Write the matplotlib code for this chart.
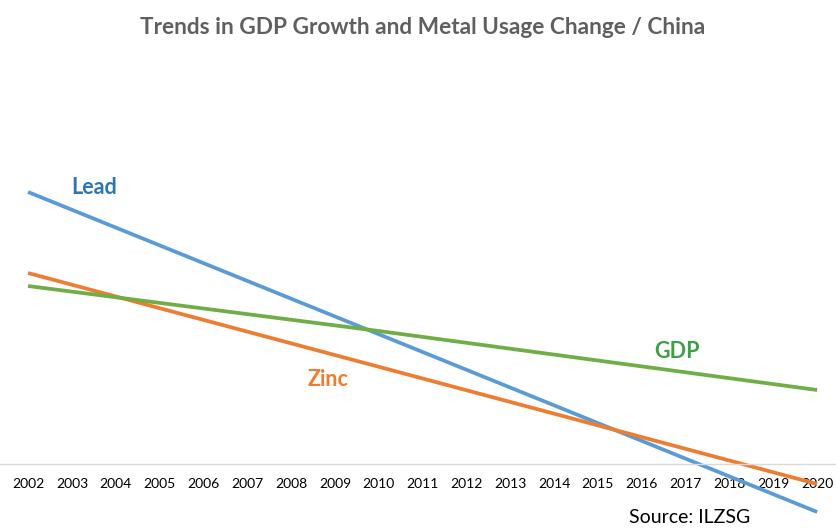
import matplotlib
matplotlib.use("Agg")
import matplotlib.pyplot as plt

years = [str(y) for y in range(2002, 2021)]

# trend lines: (year index, value)
lead_x = [0, 18]
lead_y = [27.2, -4.8]
zinc_x = [0, 18]
zinc_y = [19.1, -2.0]
gdp_x = [0, 8, 18]
gdp_y = [17.8, 13.3, 7.4]

plt.rcParams["font.family"] = ["Lato", "DejaVu Sans"]

fig = plt.figure(figsize=(8.36, 5.28), dpi=100)
ax = fig.add_axes([0, 0, 1, 1])

line_style = dict(linewidth=2.7, solid_capstyle="butt")
ax.plot(lead_x, lead_y, color="#5b9bd5", **line_style)
ax.plot(zinc_x, zinc_y, color="#ed7d31", **line_style)
ax.plot(gdp_x, gdp_y, color="#70ad47", **line_style)

label_style = dict(fontsize=15.5, fontweight="bold", ha="center", va="center")
ax.text(1.5, 27.7, "Lead", color="#2e75b6", **label_style)
ax.text(6.85, 8.4, "Zinc", color="#ed7d31", **label_style)
ax.text(14.8, 11.2, "GDP", color="#3f9f49", **label_style)

ax.set_xlim(-0.64, 18.43)
ax.set_ylim(-6.4, 46.4)
ax.set_xticks(range(len(years)))
ax.set_xticklabels(years, fontsize=8, color="#8c8c8c")
ax.set_yticks([])
ax.tick_params(axis="x", length=0, pad=10)

for side in ["top", "left", "right"]:
    ax.spines[side].set_visible(False)
ax.spines["bottom"].set_position(("data", 0))
ax.spines["bottom"].set_color("#d9d9d9")
ax.spines["bottom"].set_linewidth(1.0)

fig.text(0.505, 0.947, "Trends in GDP Growth and Metal Usage Change / China",
         ha="center", va="center", fontsize=16.3, fontweight="bold",
         color="#5f5f5f")
fig.text(0.825, 0.019, "Source: ILZSG", ha="center", va="center",
         fontsize=14, color="#000000")

fig.savefig("out.png", dpi=100)
